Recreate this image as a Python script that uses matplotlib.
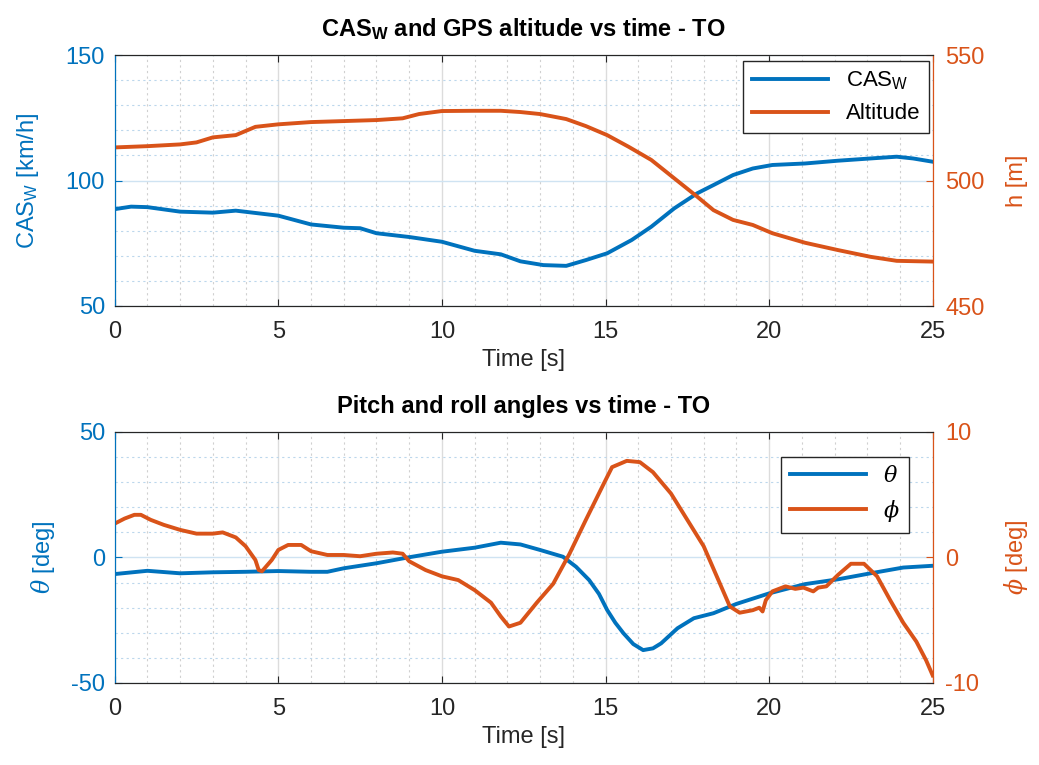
import matplotlib
matplotlib.use('Agg')
import matplotlib.pyplot as plt
from matplotlib.ticker import MultipleLocator

plt.rcParams['font.family'] = ['Liberation Sans', 'DejaVu Sans']
plt.rcParams['mathtext.fontset'] = 'custom'
plt.rcParams['mathtext.rm'] = 'Liberation Sans'
plt.rcParams['mathtext.bf'] = 'Liberation Sans:bold'
plt.rcParams['mathtext.it'] = 'DejaVu Serif:italic'
plt.rcParams['axes.unicode_minus'] = False

# Dados
t_cas = [0, 0.5, 1, 2, 3, 3.7, 5, 6, 7, 7.5, 8, 9, 10, 11, 11.8, 12.4, 13.1, 13.8, 14.4,
         15.05, 15.8, 16.4, 17.1, 17.8, 18.3, 18.9, 19.5, 20.1, 21.1, 22.1, 23.1, 23.9, 24.4, 25]
cas = [88.6, 89.6, 89.4, 87.6, 87.2, 88, 86, 82.5, 81.2, 81, 79, 77.5, 75.6, 72, 70.6, 67.8,
       66.3, 66, 68.3, 71, 76.3, 81.6, 88.9, 94.9, 98.2, 102.2, 104.8, 106.2, 106.8, 107.9,
       108.8, 109.5, 108.8, 107.5]

t_alt = [0, 1, 2, 2.5, 3, 3.7, 4.3, 5, 6, 7, 8, 8.8, 9.3, 10, 11, 11.8, 12.4, 13, 13.8, 14.4,
         15.05, 15.7, 16.4, 17.1, 17.8, 18.3, 18.9, 19.5, 20.1, 21.1, 22.1, 23.1, 23.9, 25]
alt = [513.2, 513.7, 514.4, 515.2, 517.2, 518.1, 521.4, 522.4, 523.3, 523.7, 524.1, 524.8,
       526.5, 527.7, 527.8, 527.8, 527.3, 526.5, 524.5, 521.7, 518.1, 513.5, 508.2, 500.9,
       493.6, 488.2, 484.3, 482.3, 479, 475.2, 472.3, 469.6, 468, 467.7]

t_theta = [0, 1, 2, 3, 4, 5, 6, 6.5, 7, 8, 9, 10, 11, 11.8, 12.4, 13, 13.7, 14.1, 14.5, 14.8,
           15.05, 15.3, 15.55, 15.85, 16.15, 16.45, 16.7, 17.2, 17.7, 18.3, 19, 20, 21.1, 22.1,
           23.1, 24.1, 25]
theta = [-6.6, -5.3, -6.3, -5.9, -5.7, -5.4, -5.7, -5.7, -4.3, -2.3, 0.1, 2.3, 3.9, 5.9, 5.2,
         3, 0.3, -3.7, -9, -14.5, -20.9, -26, -30.2, -34.5, -36.9, -36.2, -34.2, -28.2, -24.2,
         -22.2, -18.5, -14.3, -10.6, -8.7, -6.3, -4, -3.3]

t_phi = [0, 0.3, 0.6, 0.8, 1.1, 1.5, 2, 2.5, 3, 3.3, 3.7, 4.0, 4.3, 4.4, 4.5, 4.8, 5.0, 5.3,
         5.7, 6.0, 6.5, 7, 7.5, 8, 8.5, 8.8, 9.0, 9.5, 10, 10.5, 11, 11.5, 11.8, 12.05, 12.4,
         12.9, 13.4, 13.9, 14.4, 14.95, 15.2, 15.65, 16.05, 16.45, 17, 17.5, 18, 18.4, 18.8,
         19.1, 19.5, 19.7, 19.8, 19.9, 20.1, 20.5, 20.8, 21.05, 21.35, 21.5, 21.75, 22.1, 22.5,
         22.9, 23.3, 23.7, 24.1, 24.5, 24.8, 25]
phi = [2.7, 3.1, 3.4, 3.4, 3.0, 2.6, 2.2, 1.9, 1.9, 2.0, 1.6, 0.9, -0.2, -1.0, -1.1, -0.2, 0.6,
       1.0, 1.0, 0.5, 0.2, 0.2, 0.1, 0.3, 0.4, 0.3, -0.3, -1.0, -1.5, -1.8, -2.6, -3.6, -4.7,
       -5.5, -5.2, -3.6, -2.1, 0.3, 3.0, 5.9, 7.2, 7.7, 7.6, 6.8, 5.1, 3.0, 0.9, -1.5, -3.9,
       -4.4, -4.2, -4.0, -4.3, -3.4, -2.7, -2.3, -2.5, -2.4, -2.7, -2.4, -2.3, -1.4, -0.5,
       -0.5, -1.5, -3.4, -5.2, -6.7, -8.2, -9.4]

azul = '#0072BD'
laranja = '#D95319'
cinza = '#262626'
fs = 17

fig = plt.figure(figsize=(10.39, 7.65), dpi=100)
ax1 = fig.add_axes([0.1104, 0.6, 0.7873, 0.328])
ax3 = fig.add_axes([0.1104, 0.1072, 0.7873, 0.3281])


def estilo(ax, axr, yl, yr, ml, mr):
    ax.set_xlim(0, 25)
    ax.set_ylim(*yl)
    axr.set_ylim(*yr)
    ax.xaxis.set_major_locator(MultipleLocator(5))
    ax.xaxis.set_minor_locator(MultipleLocator(1))
    ax.yaxis.set_minor_locator(MultipleLocator(ml))
    axr.yaxis.set_minor_locator(MultipleLocator(mr))
    ax.grid(True, which='major', axis='x', color='#dcdcdc', lw=1)
    ax.grid(True, which='minor', axis='x', color='#d0d0d0', lw=0.8, ls=(0, (2, 3)))
    ax.grid(True, which='major', axis='y', color='#cfe3f2', lw=1)
    ax.grid(True, which='minor', axis='y', color='#bcd7ec', lw=0.8, ls=(0, (2, 3)))
    ax.tick_params(axis='x', which='major', direction='in', top=True, length=5,
                   color=cinza, labelcolor=cinza, labelsize=fs, pad=11)
    ax.tick_params(axis='y', which='major', direction='in', length=5, color=azul,
                   labelcolor=azul, labelsize=fs, pad=7)
    ax.tick_params(which='minor', length=0)
    axr.tick_params(axis='y', which='major', direction='in', length=5, color=laranja,
                    labelcolor=laranja, labelsize=fs, pad=9)
    axr.tick_params(which='minor', length=0)
    for a in (ax, axr):
        a.spines['top'].set_color(cinza)
        a.spines['bottom'].set_color(cinza)
        a.spines['left'].set_color(azul)
        a.spines['right'].set_color(laranja)
    ax.set_xlabel('Time [s]', fontsize=fs, color=cinza, labelpad=4)


# Gráfico superior
ax2 = ax1.twinx()
l1, = ax1.plot(t_cas, cas, color=azul, lw=2.8)
l2, = ax2.plot(t_alt, alt, color=laranja, lw=2.8)
estilo(ax1, ax2, (50, 150), (450, 550), 10, 10)
ax1.yaxis.set_major_locator(MultipleLocator(50))
ax2.yaxis.set_major_locator(MultipleLocator(50))
ax1.set_title(r'CAS$_\mathbf{W}$ and GPS altitude vs time - TO', fontsize=fs,
              fontweight='bold', pad=14)
ax1.set_ylabel(r'CAS$_\mathrm{W}$ [km/h]', fontsize=fs, color=azul)
ax1.yaxis.set_label_coords(-0.09, 0.5)
ax2.set_ylabel('h [m]', fontsize=fs, color=laranja)
ax2.yaxis.set_label_coords(1.09, 0.5)
leg = ax2.legend([l1, l2], [r'CAS$_\mathrm{W}$', 'Altitude'], loc='upper right',
                 bbox_to_anchor=(0.9955, 0.977), fontsize=16, fancybox=False,
                 edgecolor=cinza, framealpha=1, handlelength=3.4, borderaxespad=0)
leg.get_frame().set_linewidth(1)

# Gráfico inferior
ax4 = ax3.twinx()
l3, = ax3.plot(t_theta, theta, color=azul, lw=2.8)
l4, = ax4.plot(t_phi, phi, color=laranja, lw=2.8)
estilo(ax3, ax4, (-50, 50), (-10, 10), 10, 2)
ax3.yaxis.set_major_locator(MultipleLocator(50))
ax4.yaxis.set_major_locator(MultipleLocator(10))
ax3.set_title('Pitch and roll angles vs time - TO', fontsize=fs, fontweight='bold', pad=14)
ax3.set_ylabel(r'$\theta$ [deg]', fontsize=fs, color=azul)
ax3.yaxis.set_label_coords(-0.07, 0.5)
ax4.set_ylabel(r'$\phi$ [deg]', fontsize=fs, color=laranja)
ax4.yaxis.set_label_coords(1.085, 0.5)
leg2 = ax4.legend([l3, l4], [r'$\theta$', r'$\phi$'], loc='upper right',
                  bbox_to_anchor=(0.971, 0.9), fontsize=16, fancybox=False,
                  edgecolor=cinza, framealpha=1, handlelength=3.4, borderaxespad=0)
leg2.get_frame().set_linewidth(1)

fig.savefig('out.png', dpi=100)
